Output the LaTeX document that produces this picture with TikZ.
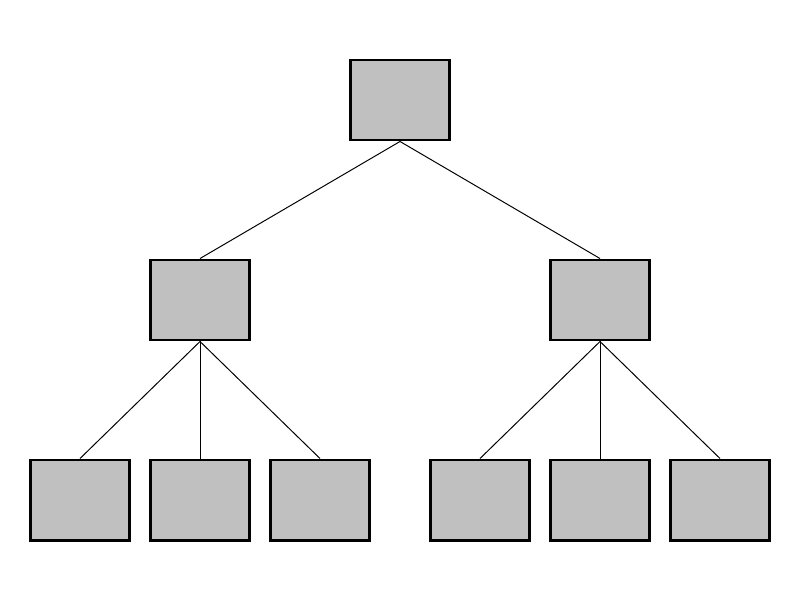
\documentclass[tikz,border=0pt]{standalone}
\usetikzlibrary{positioning}
\definecolor{boxgray}{RGB}{192,192,192}

\begin{document}
\begin{tikzpicture}[
  x=0.025cm, y=-0.025cm,
  box/.style={
    draw=black,
    fill=boxgray,
    line width=2.1pt,
    minimum width=2.48cm,
    minimum height=2cm,
    inner sep=0pt
  },
  link/.style={line width=0.7pt},
]
\useasboundingbox (0,0) rectangle (800,600);

% Root.
\node[box] (root) at (400,100) {};

% Middle level.
\node[box] (left) at (200,300) {};
\node[box] (right) at (600,300) {};

% Leaves.
\node[box] (l1) at (80,500) {};
\node[box] (l2) at (200,500) {};
\node[box] (l3) at (320,500) {};
\node[box] (r1) at (480,500) {};
\node[box] (r2) at (600,500) {};
\node[box] (r3) at (720,500) {};

% Links.
\draw[link] (root.south) -- (left.north);
\draw[link] (root.south) -- (right.north);
\foreach \leaf in {l1,l2,l3}
  \draw[link] (left.south) -- (\leaf.north);
\foreach \leaf in {r1,r2,r3}
  \draw[link] (right.south) -- (\leaf.north);

\end{tikzpicture}
\end{document}
